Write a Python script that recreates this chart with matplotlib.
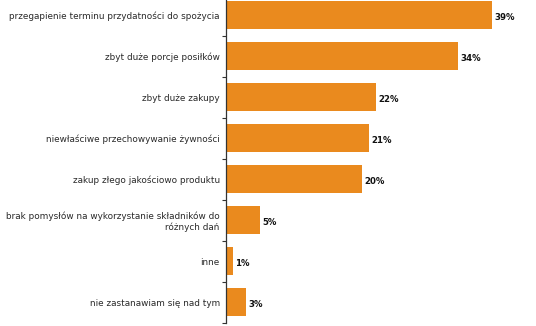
import matplotlib
matplotlib.use("Agg")
import matplotlib.pyplot as plt
import numpy as np

categories = [
    "przegapienie terminu przydatności do spożycia",
    "zbyt duże porcje posiłków",
    "zbyt duże zakupy",
    "niewłaściwe przechowywanie żywności",
    "zakup złego jakościowo produktu",
    "brak pomysłów na wykorzystanie składników do\nróżnych dań",
    "inne",
    "nie zastanawiam się nad tym",
]
values = [39, 34, 22, 21, 20, 5, 1, 3]
value_labels = ["39%", "34%", "22%", "21%", "20%", "5%", "1%", "3%"]

bar_color = "#EA8A1E"

fig = plt.figure(figsize=(5.36, 3.26), dpi=100)
ax = fig.add_axes([226 / 536, 3 / 326, 310 / 536, 323 / 326])

y = np.arange(len(categories))
ax.barh(y, values, height=0.68, color=bar_color, edgecolor="none")

for yi, v, lab in zip(y, values, value_labels):
    ax.text(v + 0.35, yi + 0.05, lab, va="center", ha="left",
            fontsize=6.2, fontweight="bold", color="#111111")

ax.set_xlim(0, 310 / 6.82)
ax.set_ylim(7.51, -0.366)

ax.set_yticks(y)
ax.set_yticklabels(categories, fontsize=6.4, color="#2a2a2a",
                   ha="right", multialignment="right")
ax.tick_params(axis="y", which="major", length=0, pad=4.5)
ax.set_yticks(np.arange(0.5, 8.0, 1.0), minor=True)
ax.tick_params(axis="y", which="minor", length=3, width=0.8,
               color="#333333", direction="out")
ax.set_xticks([])

for side in ("top", "right", "bottom"):
    ax.spines[side].set_visible(False)
ax.spines["left"].set_color("#333333")
ax.spines["left"].set_linewidth(0.9)

fig.savefig("out.png", dpi=100)
